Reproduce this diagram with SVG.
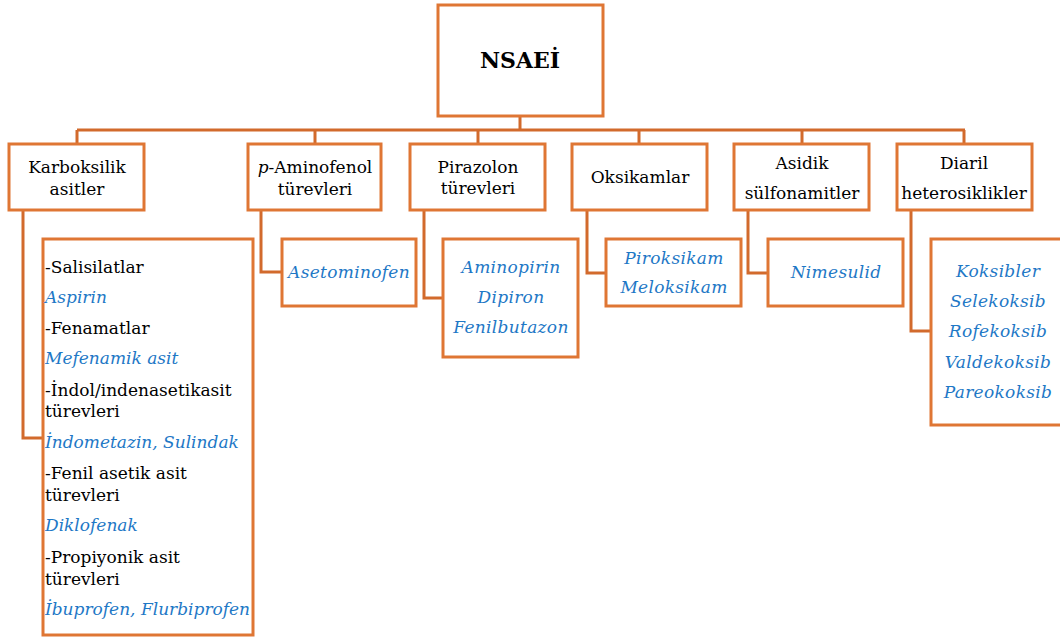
<svg xmlns="http://www.w3.org/2000/svg" width="1060" height="637" viewBox="0 0 1060 637">
<style>
.box{fill:#fff;stroke:#DF7634;stroke-width:3}
.ln{fill:none;stroke:#D26A2C;stroke-width:3}
text{font-family:'DejaVu Serif','Liberation Serif','Noto Serif',serif}
.t{font-size:17px;fill:#000}
.c{text-anchor:middle}
.b{font-size:17px;font-style:italic;fill:#1E78C6;letter-spacing:0.3px}
.l{letter-spacing:0}
.h{font-size:22px;font-weight:bold;fill:#000;text-anchor:middle}
</style>
<rect width="1060" height="637" fill="#fff"/>
<g id="connectors">
<path class="ln" d="M520 116V130M77 130H965M77 130V144M315 130V144M478 130V144M639 130V144M802 130V144M964 130V144"/>
<path class="ln" d="M23 210V438H43"/>
<path class="ln" d="M261 210V272H282"/>
<path class="ln" d="M424 210V298H443"/>
<path class="ln" d="M587 210V273H606"/>
<path class="ln" d="M748 210V273H768"/>
<path class="ln" d="M911 210V331H931"/>
</g>
<g id="root">
<rect class="box" x="438" y="5" width="165" height="111"/>
<text class="h" x="520" y="68">NSAEİ</text>
</g>
<g id="karboksilik">
<rect class="box" x="9" y="144" width="135" height="66"/>
<text class="t c" x="77" y="173">Karboksilik</text>
<text class="t c" x="77" y="195">asitler</text>
</g>
<g id="aminofenol">
<rect class="box" x="248" y="144" width="133" height="66"/>
<text class="t c" x="315" y="173"><tspan font-style="italic">p</tspan>-Aminofenol</text>
<text class="t c" x="315" y="195">türevleri</text>
</g>
<g id="pirazolon">
<rect class="box" x="410" y="144" width="135" height="66"/>
<text class="t c" x="478" y="173">Pirazolon</text>
<text class="t c" x="478" y="194">türevleri</text>
</g>
<g id="oksikamlar">
<rect class="box" x="572" y="144" width="135" height="66"/>
<text class="t c" x="640" y="183">Oksikamlar</text>
</g>
<g id="asidik">
<rect class="box" x="734" y="144" width="135" height="66"/>
<text class="t c" x="802" y="169">Asidik</text>
<text class="t c" x="802" y="199">sülfonamitler</text>
</g>
<g id="diaril">
<rect class="box" x="897" y="144" width="135" height="66"/>
<text class="t c" x="964" y="169">Diaril</text>
<text class="t c" x="964" y="199">heterosiklikler</text>
</g>
<g id="karboksilik-list">
<rect class="box" x="43" y="239" width="210" height="396"/>
<text class="t" x="45" y="273">-Salisilatlar</text>
<text class="b l" x="45" y="303">Aspirin</text>
<text class="t" x="45" y="334">-Fenamatlar</text>
<text class="b l" x="45" y="364">Mefenamik asit</text>
<text class="t" x="45" y="396">-İndol/indenasetikasit</text>
<text class="t" x="45" y="417">türevleri</text>
<text class="b l" x="45" y="448">İndometazin, Sulindak</text>
<text class="t" x="45" y="479">-Fenil asetik asit</text>
<text class="t" x="45" y="501">türevleri</text>
<text class="b l" x="45" y="531">Diklofenak</text>
<text class="t" x="45" y="563">-Propiyonik asit</text>
<text class="t" x="45" y="585">türevleri</text>
<text class="b l" x="45" y="615">İbuprofen, Flurbiprofen</text>
</g>
<g id="asetominofen">
<rect class="box" x="282" y="239" width="134" height="67"/>
<text class="b c" x="349" y="278">Asetominofen</text>
</g>
<g id="pirazolon-list">
<rect class="box" x="443" y="239" width="135" height="118"/>
<text class="b c" x="511" y="273">Aminopirin</text>
<text class="b c" x="511" y="303">Dipiron</text>
<text class="b c" x="511" y="333">Fenilbutazon</text>
</g>
<g id="oksikam-list">
<rect class="box" x="606" y="239" width="135" height="67"/>
<text class="b c" x="674" y="264">Piroksikam</text>
<text class="b c" x="674" y="293">Meloksikam</text>
</g>
<g id="nimesulid">
<rect class="box" x="768" y="239" width="135" height="67"/>
<text class="b c" x="836" y="278">Nimesulid</text>
</g>
<g id="koksib-list">
<rect class="box" x="931" y="239" width="135" height="186"/>
<text class="b c" x="998" y="277">Koksibler</text>
<text class="b c" x="998" y="307">Selekoksib</text>
<text class="b c" x="998" y="337">Rofekoksib</text>
<text class="b c" x="998" y="368">Valdekoksib</text>
<text class="b c" x="998" y="398">Pareokoksib</text>
</g>
</svg>
